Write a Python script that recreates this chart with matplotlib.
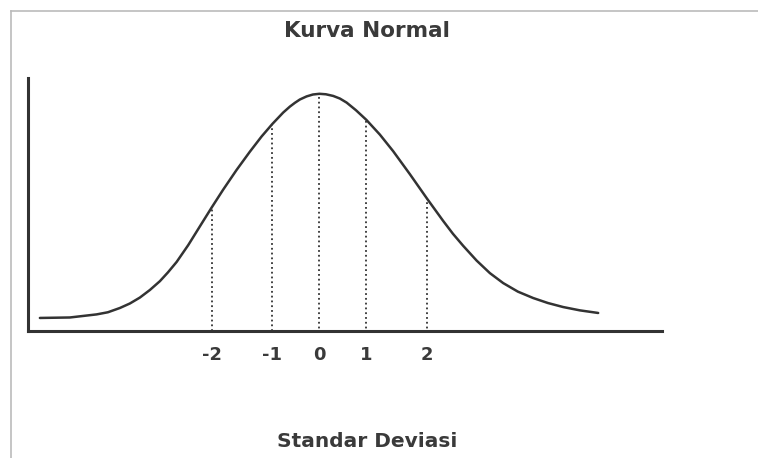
import numpy as np
import matplotlib.pyplot as plt
from matplotlib.lines import Line2D

# curve (x in sd-ish units, y relative height)
curve_x = [-5.947, -5.309, -4.740, -4.500, -4.245, -4.032, -3.819, -3.606, -3.394,
           -3.223, -3.038, -2.791, -2.543, -2.294, -2.047, -1.762, -1.479, -1.230,
           -1.000, -0.770, -0.628, -0.521, -0.415, -0.272, -0.138, 0.000,
           0.138, 0.294, 0.436, 0.579, 0.777, 1.000, 1.287, 1.570, 1.926, 2.294,
           2.634, 2.841, 3.060, 3.345, 3.628, 3.911, 4.223, 4.549, 4.862, 5.187,
           5.543, 5.932]
curve_y = [0.055, 0.057, 0.070, 0.079, 0.097, 0.116, 0.141, 0.173, 0.210,
           0.247, 0.291, 0.362, 0.441, 0.520, 0.596, 0.679, 0.756, 0.820,
           0.873, 0.921, 0.946, 0.962, 0.976, 0.989, 0.997, 1.000,
           0.998, 0.991, 0.980, 0.963, 0.931, 0.890, 0.828, 0.758, 0.661, 0.557,
           0.464, 0.410, 0.359, 0.297, 0.244, 0.202, 0.166, 0.139, 0.118, 0.101,
           0.087, 0.076]

# dotted guide lines at each standard deviation
sd_pos = [-2.294, -1.000, 0.0, 1.000, 2.294]
sd_top = [0.520, 0.873, 1.000, 0.890, 0.557]
sd_bottom = [0.0, 0.0, -0.03, -0.03, -0.03]
sd_labels = ["-2", "-1", "0", "1", "2"]

plt.rcParams['font.family'] = ['DejaVu Sans']
ink = '#333333'
txt = '#3a3a3a'

fig = plt.figure(figsize=(7.58, 4.58), dpi=100)
fig.patch.set_facecolor('white')

# light frame along top and left edge
fig.add_artist(Line2D([11/758, 1], [1 - 11/458, 1 - 11/458], color='#bbbbbb', lw=1.2))
fig.add_artist(Line2D([11/758, 11/758], [0, 1 - 11/458], color='#bbbbbb', lw=1.2))

ax = fig.add_axes([28/758, 127/458, 634/758, 253/458])
ax.plot(curve_x, curve_y, color=ink, lw=1.8, solid_joinstyle='round',
        solid_capstyle='round')
ax.vlines(sd_pos, sd_bottom, sd_top, colors=ink, linestyles=':', lw=1.3)

ax.set_xlim(-6.20, 7.29)
ax.set_ylim(0, 1.0666)
for side in ['top', 'right']:
    ax.spines[side].set_visible(False)
for side in ['left', 'bottom']:
    ax.spines[side].set_color(ink)
    ax.spines[side].set_linewidth(2.2)
ax.spines['bottom'].set_zorder(0)
ax.set_xticks(sd_pos)
ax.set_xticklabels(sd_labels, fontsize=13, fontweight='bold', color=txt)
ax.tick_params(axis='x', length=0, pad=10.5)
ax.set_yticks([])
ax.patch.set_alpha(0)

fig.text(367/758, 1 - 37/458, "Kurva Normal", ha='center', va='baseline',
         fontsize=15.5, fontweight='bold', color=txt)
fig.text(367/758, 1 - 447/458, "Standar Deviasi", ha='center', va='baseline',
         fontsize=14.5, fontweight='bold', color=txt)

fig.savefig('out.png', dpi=100)
